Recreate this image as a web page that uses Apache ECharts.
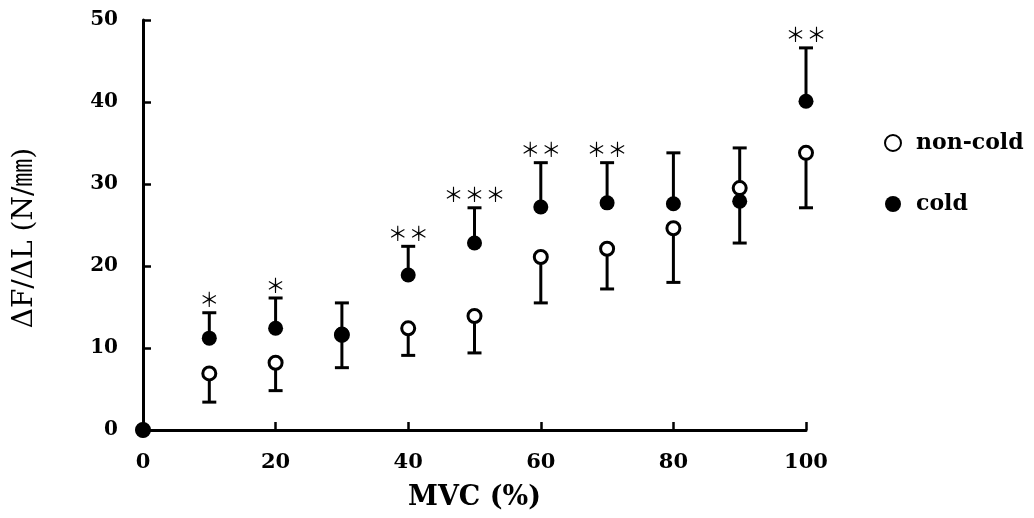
<!DOCTYPE html>
<html>
<head>
<meta charset="utf-8">
<script src="https://cdn.jsdelivr.net/npm/echarts@6/dist/echarts.min.js"></script>
<style>
  html, body { margin: 0; padding: 0; background: #fff; }
  #chart { width: 1034px; height: 518px; }
</style>
</head>
<body>
<div id="chart"></div>
<script>
// ---- data ----
const mvc = [0, 10, 20, 30, 40, 50, 60, 70, 80, 90, 100];
const nonCold = [0, 6.9, 8.2, 11.6, 12.4, 13.9, 21.1, 22.1, 24.6, 29.5, 33.8];
const nonColdSD = [0, 3.5, 3.4, 4.0, 3.3, 4.5, 5.6, 4.9, 6.6, 4.9, 6.7];
const nonColdDir = [0, -1, -1, -1, -1, -1, -1, -1, -1, 1, -1];
const cold = [0, 11.2, 12.4, 11.7, 18.9, 22.8, 27.2, 27.7, 27.6, 27.9, 40.1];
const coldSD = [0, 3.1, 3.7, 3.8, 3.5, 4.3, 5.4, 4.9, 6.2, 5.1, 6.5];
const coldDir = [0, 1, 1, 1, 1, 1, 1, 1, 1, -1, 1];
const significance = ['', '*', '*', '', '**', '***', '**', '**', '', '', '**'];
const xTicks = [0, 20, 40, 60, 80, 100];
const yTicks = [0, 10, 20, 30, 40, 50];
// points where the filled marker covers the open one
const nonColdCovered = [0, 30];

const SERIF = '"DejaVu Serif", "Liberation Serif", serif';

function errData(means, sds, dirs) {
  return mvc.map((x, i) => [x, means[i], sds[i], dirs[i]]);
}

function makeErrRender(withSig) {
  return function (params, api) {
    const x = api.value(0), m = api.value(1), e = api.value(2), d = api.value(3);
    if (!e) return null;
    const p0 = api.coord([x, m]);
    const p1 = api.coord([x, m + d * e]);
    const children = [
      { type: 'line', shape: { x1: p0[0], y1: p0[1], x2: p1[0], y2: p1[1] },
        style: { stroke: '#000', lineWidth: 3 } },
      { type: 'line', shape: { x1: p1[0] - 7, y1: p1[1], x2: p1[0] + 7, y2: p1[1] },
        style: { stroke: '#000', lineWidth: 3 } }
    ];
    if (withSig) {
      const s = significance[params.dataIndex];
      if (s) {
        const n = s.length;
        for (let k = 0; k < n; k++) {
          children.push({
            type: 'text',
            style: {
              text: '＊', x: p1[0] + (k - (n - 1) / 2) * 21, y: p1[1] - 13,
              align: 'center', verticalAlign: 'middle',
              font: '20px "Noto Sans CJK JP"', fill: '#000'
            }
          });
        }
      }
    }
    return { type: 'group', children: children };
  };
}

const chart = echarts.init(document.getElementById('chart'));
chart.setOption({
  animation: false,
  backgroundColor: '#fff',
  grid: { left: 143, right: 228, top: 20, bottom: 88 },
  legend: {
    orient: 'vertical',
    left: 879,
    top: 126,
    itemGap: 37,
    itemWidth: 16,
    itemHeight: 16,
    data: ['non-cold', 'cold'],
    textStyle: { fontFamily: SERIF, fontWeight: 'bold', fontSize: 22, color: '#000',
                 lineHeight: 24, padding: [0, 0, 0, 10] }
  },
  xAxis: {
    type: 'value', min: 0, max: 100, interval: 20,
    name: 'MVC (%)', nameLocation: 'middle', nameGap: 54,
    nameTextStyle: { fontFamily: SERIF, fontWeight: 'bold', fontSize: 27, color: '#000' },
    axisLine: { show: true, onZero: false, lineStyle: { color: '#000', width: 3 } },
    axisTick: { show: true, inside: true, length: 8, lineStyle: { color: '#000', width: 2.5 } },
    axisLabel: { margin: 22, fontFamily: SERIF, fontWeight: 'bold', fontSize: 21, color: '#000',
                 formatter: v => xTicks.includes(v) ? String(v) : '' },
    splitLine: { show: false }
  },
  yAxis: {
    type: 'value', min: 0, max: 50, interval: 10,
    name: 'ΔF/ΔL (N/㎜)', nameLocation: 'middle', nameGap: 104, nameRotate: 90,
    nameTextStyle: { fontFamily: '"DejaVu Serif", "Noto Sans CJK JP", serif', fontSize: 28, color: '#000',
                     padding: [0, 26, 0, 0] },
    axisLine: { show: true, onZero: false, lineStyle: { color: '#000', width: 3 } },
    axisTick: { show: true, inside: true, length: 8, lineStyle: { color: '#000', width: 2.5 } },
    axisLabel: { margin: 25, fontFamily: SERIF, fontWeight: 'bold', fontSize: 20, color: '#000',
                 formatter: v => yTicks.includes(v) ? String(v) : '' },
    splitLine: { show: false }
  },
  series: [
    {
      name: 'non-cold-err', type: 'custom', z: 1, silent: true, clip: false,
      renderItem: makeErrRender(false), data: errData(nonCold, nonColdSD, nonColdDir)
    },
    {
      name: 'cold-err', type: 'custom', z: 1, silent: true, clip: false,
      renderItem: makeErrRender(true), data: errData(cold, coldSD, coldDir)
    },
    {
      name: 'cold', type: 'scatter', z: 3, clip: false,
      symbol: 'circle', symbolSize: 15,
      itemStyle: { color: '#000', opacity: 1 },
      data: mvc.map((x, i) => [x, cold[i]])
    },
    {
      name: 'non-cold', type: 'scatter', z: 4, clip: false,
      symbol: 'circle', symbolSize: 13,
      itemStyle: { color: '#fff', borderColor: '#000', borderWidth: 3, opacity: 1 },
      data: mvc.map((x, i) => nonColdCovered.includes(x)
        ? { value: [x, nonCold[i]], itemStyle: { color: '#000' } }
        : [x, nonCold[i]])
    }
  ]
});
</script>
</body>
</html>
